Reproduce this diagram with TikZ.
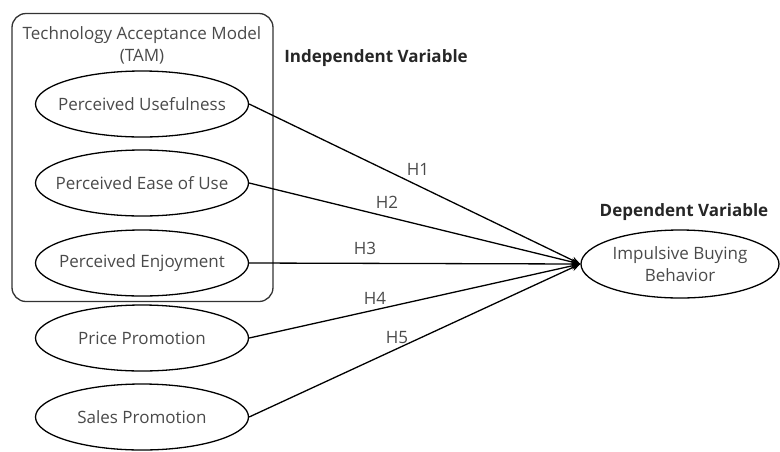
\documentclass[tikz,border=0pt]{standalone}
\usepackage{fontspec}
\setmainfont{Open Sans}
\usetikzlibrary{shapes.geometric,arrows.meta}
\definecolor{txt}{HTML}{4A4A4A}
\begin{document}
\begin{tikzpicture}[x=1pt,y=-1pt,
  lbl/.style={text=txt,font=\fontsize{17}{22}\selectfont,inner sep=0pt,align=center},
  var/.style={draw=black,line width=1.3pt,ellipse,minimum width=213pt,minimum height=66pt,inner sep=0pt,label={[lbl]center:#1}},
  dep/.style={var={#1},minimum width=198pt,minimum height=68pt},
  head/.style={font=\bfseries\fontsize{17}{21}\selectfont,text=black!85},
  link/.style={draw=black,line width=1.3pt,-{Stealth[length=9pt,width=7pt]}}]
\useasboundingbox (0,0) rectangle (780,451);
\node[draw=black!80,line width=1.3pt,rounded corners=14pt,minimum width=261pt,minimum height=288pt,inner sep=0pt] (tam) at (142.5,157.5) {};
\node[lbl] (tamt) at (142,45) {Technology Acceptance Model\\(TAM)};
\node[var={Perceived Usefulness}] (pu) at (142,104) {};
\node[var={Perceived Ease of Use}] (peu) at (142,183) {};
\node[var={Perceived Enjoyment}] (pe) at (142,263) {};
\node[var={Price Promotion}] (pp) at (142,338) {};
\node[var={Sales Promotion}] (sp) at (142,417) {};
\node[dep={Impulsive Buying\\Behavior}] (ibb) at (680,264) {};
\node[head] (iv) at (376,58) {Independent Variable};
\node[head] (dv) at (684,212) {Dependent Variable};
\coordinate (tip) at (ibb.west);
\draw[link] (pu.east) -- (tip);
\draw[link] (peu.east) -- (tip);
\draw[link] (pe.east) -- (tip);
\draw[link] (pp.east) -- (tip);
\draw[link] (sp.east) -- (tip);
\node[lbl] (h1) at (418,169) {H1};
\node[lbl] (h2) at (387,202) {H2};
\node[lbl] (h3) at (365,248) {H3};
\node[lbl] (h4) at (375,298) {H4};
\node[lbl] (h5) at (397,338) {H5};
\end{tikzpicture}
\end{document}
